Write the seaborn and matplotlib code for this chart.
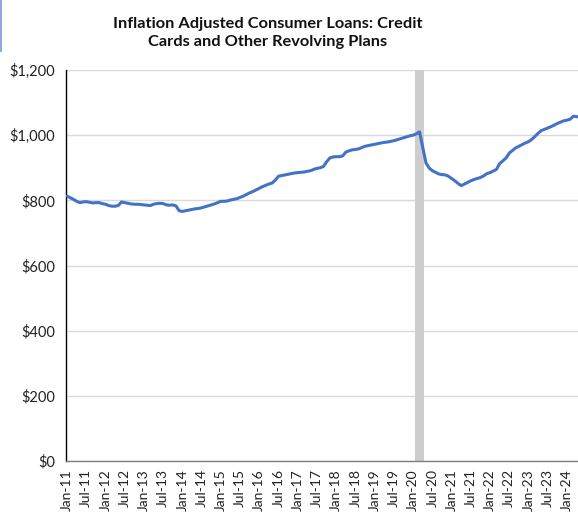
import matplotlib
matplotlib.use("Agg")
import matplotlib.pyplot as plt
import matplotlib.patches as mpatches
import numpy as np
import pandas as pd
import seaborn as sns

# Monthly real revolving consumer credit, Jan 2011 - May 2024 (billions of dollars)
start_year = 2011
loans_2011 = [813, 808, 803, 797, 793, 795, 796, 794, 792, 793, 793, 790]
loans_2012 = [788, 784, 782, 782, 784, 795, 793, 791, 789, 788, 788, 787]
loans_2013 = [786, 785, 784, 788, 790, 791, 790, 786, 785, 786, 783, 768]
loans_2014 = [766, 768, 770, 772, 774, 775, 777, 780, 783, 786, 789, 793]
loans_2015 = [797, 797, 798, 801, 803, 805, 809, 813, 818, 823, 827, 832]
loans_2016 = [837, 842, 846, 850, 853, 862, 874, 876, 878, 880, 882, 884]
loans_2017 = [885, 886, 887, 889, 891, 895, 898, 900, 904, 918, 930, 933]
loans_2018 = [934, 934, 936, 948, 952, 955, 956, 958, 962, 966, 968, 970]
loans_2019 = [972, 974, 976, 978, 979, 981, 983, 986, 989, 992, 995, 998]
loans_2020 = [1000, 1004, 1010, 963, 915, 899, 891, 886, 881, 879, 878, 874]
loans_2021 = [867, 860, 852, 845, 850, 855, 860, 864, 867, 870, 875, 882]
loans_2022 = [885, 890, 895, 913, 921, 930, 945, 953, 961, 966, 971, 976]
loans_2023 = [980, 987, 996, 1006, 1014, 1018, 1022, 1026, 1031, 1036, 1040, 1044]
loans_2024 = [1046, 1049, 1058, 1057, 1055]

loans = (loans_2011 + loans_2012 + loans_2013 + loans_2014 + loans_2015
         + loans_2016 + loans_2017 + loans_2018 + loans_2019 + loans_2020
         + loans_2021 + loans_2022 + loans_2023 + loans_2024)

# Recession shading, in months since Jan 2011 (Feb - Apr 2020)
recession_start = 108.5
recession_end = 111.5

y_ticks = [0, 200, 400, 600, 800, 1000, 1200]
y_tick_labels = ["$0", "$200", "$400", "$600", "$800", "$1,000", "$1,200"]

month_names = ["Jan", "Jul"]
x_ticks = list(range(0, 157, 6))
x_tick_labels = [f"{month_names[(m // 6) % 2]}-{(start_year + m // 12) % 100:02d}" for m in x_ticks]

df = pd.DataFrame({"month": np.arange(len(loans)), "loans": loans})

sns.set_theme(style="white")
plt.rcParams["font.family"] = ["Lato", "DejaVu Sans"]

fig = plt.figure(figsize=(5.78, 5.13), dpi=100)
ax = fig.add_axes([66 / 578, 52 / 513, 1 - 66 / 578, 391 / 513])

ax.axvspan(recession_start, recession_end, color="#cdcdcd", lw=0, zorder=1)
sns.lineplot(data=df, x="month", y="loans", ax=ax, color="#4472C4",
             linewidth=2.2, zorder=3)

ax.set_xlim(-0.31, 159.44)
ax.set_ylim(0, 1200)
ax.set_yticks(y_ticks)
ax.set_yticklabels(y_tick_labels, fontsize=10.5, color="#222222")
ax.set_xticks(x_ticks)
ax.set_xticklabels(x_tick_labels, rotation=90, fontsize=10, color="#222222")
ax.tick_params(axis="y", length=0, pad=8)
ax.tick_params(axis="x", length=0, pad=6)
ax.set_xlabel("")
ax.set_ylabel("")

ax.yaxis.grid(True, color="#d9d9d9", linewidth=1.0, zorder=0)
ax.set_axisbelow(True)
for side in ["top", "right"]:
    ax.spines[side].set_visible(False)
ax.spines["left"].set_color("#000000")
ax.spines["left"].set_linewidth(1.0)
ax.spines["bottom"].set_color("#7f7f7f")
ax.spines["bottom"].set_linewidth(1.0)

fig.text(268 / 578, 1 - 33 / 513,
         "Inflation Adjusted Consumer Loans: Credit\nCards and Other Revolving Plans",
         ha="center", va="center", fontsize=11.8, fontweight="bold",
         color="#111111", linespacing=1.35)

# thin accent bar at the upper-left edge
fig.patches.append(mpatches.Rectangle((0, 1 - 52 / 513), 2 / 578, 52 / 513,
                                      transform=fig.transFigure,
                                      color="#8faadc", lw=0))

fig.savefig("out.png", dpi=100)
